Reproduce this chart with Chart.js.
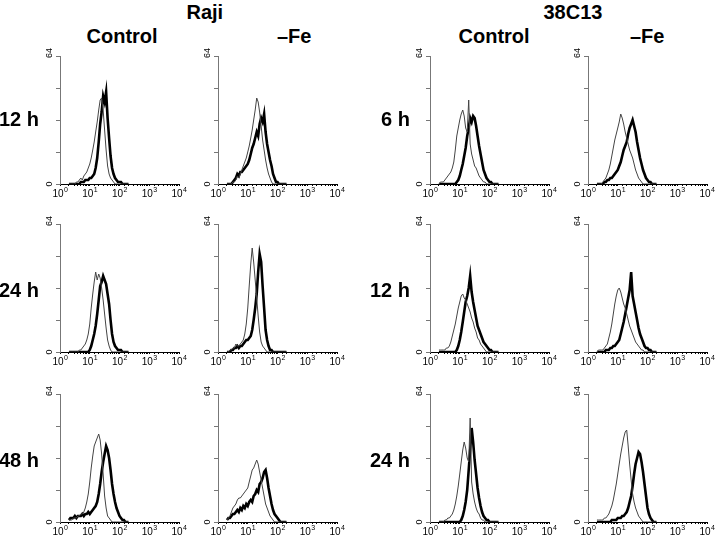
<!DOCTYPE html>
<html>
<head>
<meta charset="utf-8">
<script src="https://cdn.jsdelivr.net/npm/chart.js@4.4.1/dist/chart.umd.min.js"></script>
<style>
  body { margin: 0; background: #fff; width: 720px; height: 536px; position: relative; overflow: hidden;
         font-family: "Liberation Sans", Arial, sans-serif; }
  .lbl { position: absolute; font-weight: bold; font-size: 20px; line-height: 20px; white-space: nowrap; color: #000; }
  .panel { position: absolute; }
</style>
</head>
<body>
<script>
// fluorescence channels (log spaced, 10^0.30 .. 10^2.30)
var channels = [2.00, 2.24, 2.51, 2.82, 3.16, 3.55, 3.98, 4.47, 5.01, 5.62,
                6.31, 7.08, 7.94, 8.91, 10.0, 11.2, 12.6, 14.1, 15.8, 17.8,
                20.0, 22.4, 25.1, 28.2, 31.6, 35.5, 39.8, 44.7, 50.1, 56.2,
                63.1, 70.8, 79.4, 89.1, 100, 112, 126, 141, 158, 178, 200];

var cellLines = ['Raji', '38C13'];
var conditions = ['Control', '\u2013Fe'];
var rajiTimes = ['12 h', '24 h', '48 h'];
var c38Times = ['6 h', '12 h', '24 h'];
var xTickExponents = ['0', '1', '2', '3', '4'];
var yTickLabels = [0, 64];

// Raji
var rajiControl12Thin  = [0,0,0,0,0,1,1,2,3,2, 4,5,6,8,10,13,17,21,26,31, 37,42,43,37,27,17,9,5,3,2, 1,0,0,0,0,0,0,0,0,0, 0];
var rajiControl12Thick = [0,0,0,0,0,0,0,0,1,1, 1,2,2,2,3,3,4,5,8,13, 21,30,36,44,41,46,33,23,14,8, 5,3,2,1,1,1,0,0,0,0, 0];
var rajiFe12Thin       = [0,0,0,0,1,1,2,4,3,5, 7,9,11,13,16,19,23,27,32,37, 43,41,36,29,22,17,12,8,5,3, 1,0,0,0,0,0,0,0,0,0, 0];
var rajiFe12Thick      = [0,0,0,0,1,2,3,5,4,6, 6,7,8,9,10,12,15,18,20,23, 26,24,30,33,31,35,26,20,16,12, 9,5,3,1,1,0,0,0,0,0, 0];
var rajiControl24Thin  = [0,0,0,0,0,0,0,1,1,2, 3,4,6,9,14,22,29,35,40,36, 39,37,32,26,19,12,6,3,1,0, 0,0,0,0,0,0,0,0,0,0, 0];
var rajiControl24Thick = [0,0,0,0,0,0,0,0,0,0, 0,0,0,0,1,3,6,9,13,19, 26,33,35,38,36,34,29,24,16,9, 5,3,2,1,1,1,0,0,0,0, 0];
var rajiFe24Thin       = [0,0,1,1,2,2,4,3,3,4, 5,6,9,14,22,33,44,52,45,36, 27,18,10,5,3,2,1,0,0,0, 0,0,0,0,0,0,0,0,0,0, 0];
var rajiFe24Thick      = [0,0,0,1,1,2,2,3,2,3, 3,4,5,6,6,7,8,11,16,22, 29,40,49,45,33,22,11,6,3,1, 1,0,0,0,0,0,0,0,0,0, 0];
var rajiControl48Thin  = [1,1,1,2,2,2,3,3,4,4, 5,7,10,14,20,27,33,38,40,42, 44,41,34,24,13,7,3,2,1,0, 0,0,0,0,0,0,0,0,0,0, 0];
var rajiControl48Thick = [1,2,2,2,3,2,3,3,3,4, 3,4,4,5,4,5,6,7,8,10, 14,19,25,30,34,38,36,32,26,19, 14,10,7,5,3,2,1,1,0,0, 0];
var rajiFe48Thin       = [1,2,3,5,7,8,9,11,12,12, 13,14,15,16,17,20,23,26,27,29, 31,29,25,21,17,13,9,7,5,3, 2,1,0,0,0,0,0,0,0,0, 0];
var rajiFe48Thick      = [1,2,2,3,4,4,5,6,5,7, 6,8,7,9,8,10,11,10,13,14, 16,15,19,20,22,25,26,22,17,13, 9,6,4,3,2,1,0,0,0,0, 0];

// 38C13
var c38Control6Thin    = [0,1,1,1,2,3,4,5,6,8, 11,17,24,28,32,35,37,34,28,26, 42,20,15,12,9,8,6,4,3,2, 1,1,0,0,0,0,0,0,0,0, 0];
var c38Control6Thick   = [0,0,0,0,0,0,0,0,0,0, 0,0,1,2,4,7,10,14,18,24, 28,33,31,34,33,29,24,19,15,11, 7,5,3,2,1,1,0,0,0,0, 0];
var c38Fe6Thin         = [0,0,0,0,1,2,3,5,7,10, 14,18,22,25,28,31,35,33,30,26, 23,20,17,15,13,10,7,5,3,2, 1,0,0,0,0,0,0,0,0,0, 0];
var c38Fe6Thick        = [0,0,0,0,0,1,1,2,2,3, 3,4,5,6,7,9,11,14,17,19, 21,25,28,30,32,29,26,21,17,13, 10,7,5,3,2,1,1,0,0,0, 0];
var c38Control12Thin   = [1,1,1,1,1,2,2,3,5,8, 11,14,18,22,25,28,29,27,26,24, 22,20,17,15,12,10,7,6,4,3, 2,1,0,0,0,0,0,0,0,0, 0];
var c38Control12Thick  = [0,0,0,0,0,0,0,0,0,0, 0,0,1,3,6,10,15,20,25,28, 32,38,30,25,21,17,13,11,9,7, 5,4,3,2,1,1,0,0,0,0, 0];
var c38Fe12Thin        = [0,1,1,1,1,2,3,4,7,10, 14,19,24,28,31,32,30,27,24,22, 19,16,13,11,9,7,5,4,3,2, 1,1,0,0,0,0,0,0,0,0, 0];
var c38Fe12Thick       = [0,0,0,0,0,0,1,1,1,2, 2,3,3,4,5,6,9,12,15,19, 23,27,31,40,28,24,20,16,12,9, 7,5,3,2,2,1,1,0,0,0, 0];
var c38Control24Thin   = [0,0,0,0,1,1,2,2,3,4, 6,9,13,18,24,30,36,40,37,32, 30,52,20,14,10,7,5,4,2,1, 1,0,0,0,0,0,0,0,0,0, 0];
var c38Control24Thick  = [0,0,0,0,0,0,0,0,0,0, 0,0,0,0,0,1,3,6,10,16, 26,36,47,40,31,24,17,12,8,5, 3,2,1,1,0,0,0,0,0,0, 0];
var c38Fe24Thin        = [1,1,1,1,1,2,2,3,4,6, 8,11,15,19,24,29,34,38,42,45, 46,38,29,21,14,10,7,5,3,2, 1,0,0,0,0,0,0,0,0,0, 0];
var c38Fe24Thick       = [0,0,0,0,0,0,0,0,0,0, 1,1,1,1,2,2,2,3,3,4, 5,7,10,13,18,24,29,32,35,34, 30,25,19,13,7,4,2,1,0,0, 0];

var FONT = '"Liberation Sans", Arial, sans-serif';
Chart.defaults.font.family = FONT;

function toPoints(values) {
    return values.map(function (v, i) { return { x: channels[i], y: v }; });
}

// rotated 0 / 64 on the y axis and 10^n labels on the x axis
var axisLabels = {
    id: 'axisLabels',
    afterDraw: function (chart) {
        var ctx = chart.ctx, y = chart.scales.y, x = chart.scales.x;
        ctx.save();
        ctx.fillStyle = '#000';
        ctx.font = '9px ' + FONT;
        ctx.textAlign = 'center';
        ctx.textBaseline = 'middle';
        yTickLabels.forEach(function (v) {
            ctx.save();
            ctx.translate(y.right - 10, y.getPixelForValue(v) - (v > 0 ? 3 : 0));
            ctx.rotate(-Math.PI / 2);
            ctx.fillText(String(v), 0, 0);
            ctx.restore();
        });
        ctx.textAlign = 'left';
        ctx.textBaseline = 'top';
        xTickExponents.forEach(function (e, i) {
            var px = x.getPixelForValue(Math.pow(10, i));
            ctx.font = '10px ' + FONT;
            var wBase = ctx.measureText('10').width;
            ctx.font = '7px ' + FONT;
            var wExp = ctx.measureText(e).width;
            var start = px - (wBase + wExp) / 2;
            ctx.font = '10px ' + FONT;
            ctx.fillText('10', start, x.top + 5);
            ctx.font = '7px ' + FONT;
            ctx.fillText(e, start + wBase + 0.5, x.top + 2.5);
        });
        ctx.restore();
    }
};

function addLabel(text, x, y, align) {
    var d = document.createElement('div');
    d.className = 'lbl';
    d.textContent = text;
    document.body.appendChild(d);
    var w = d.offsetWidth;
    var left = align === 'right' ? x - w : x - w / 2;
    d.style.left = left + 'px';
    d.style.top = (y - 10) + 'px';
}

function makePanel(left, top, thin, thick) {
    var padL = 22, padT = 8, padR = 14, padB = 16, w = 119, h = 128;
    var cv = document.createElement('canvas');
    cv.className = 'panel';
    cv.width = w + padL + padR;
    cv.height = h + padT + padB;
    cv.style.left = (left - padL) + 'px';
    cv.style.top = (top - padT) + 'px';
    document.body.appendChild(cv);

    new Chart(cv.getContext('2d'), {
        type: 'line',
        data: {
            datasets: [
                { data: toPoints(thin), borderColor: '#444', borderWidth: 1, pointRadius: 0, tension: 0 },
                { data: toPoints(thick), borderColor: '#000', borderWidth: 2.6, pointRadius: 0, tension: 0 }
            ]
        },
        options: {
            responsive: false,
            animation: false,
            events: [],
            layout: { autoPadding: false, padding: { left: 0, top: padT, right: padR, bottom: 0 } },
            plugins: { legend: { display: false }, tooltip: { enabled: false } },
            scales: {
                x: {
                    type: 'logarithmic',
                    min: 1,
                    max: 10000,
                    afterFit: function (s) { s.height = padB; },
                    ticks: { autoSkip: false, maxRotation: 0, minRotation: 0, display: false },
                    grid: { drawOnChartArea: false, drawTicks: true, tickLength: 2, color: '#000', lineWidth: 1 },
                    border: { display: true, color: '#000', width: 1 }
                },
                y: {
                    min: 0,
                    max: 64,
                    afterFit: function (s) { s.width = padL; },
                    ticks: { stepSize: 16, display: false },
                    grid: { drawOnChartArea: false, drawTicks: true, tickLength: 4, color: '#777', lineWidth: 1 },
                    border: { display: true, color: '#777', width: 1 }
                }
            }
        },
        plugins: [axisLabels]
    });
}

var colLeft = [60, 218, 430, 588];
var rowTop = [56, 224, 394];

makePanel(colLeft[0], rowTop[0], rajiControl12Thin, rajiControl12Thick);
makePanel(colLeft[1], rowTop[0], rajiFe12Thin, rajiFe12Thick);
makePanel(colLeft[0], rowTop[1], rajiControl24Thin, rajiControl24Thick);
makePanel(colLeft[1], rowTop[1], rajiFe24Thin, rajiFe24Thick);
makePanel(colLeft[0], rowTop[2], rajiControl48Thin, rajiControl48Thick);
makePanel(colLeft[1], rowTop[2], rajiFe48Thin, rajiFe48Thick);

makePanel(colLeft[2], rowTop[0], c38Control6Thin, c38Control6Thick);
makePanel(colLeft[3], rowTop[0], c38Fe6Thin, c38Fe6Thick);
makePanel(colLeft[2], rowTop[1], c38Control12Thin, c38Control12Thick);
makePanel(colLeft[3], rowTop[1], c38Fe12Thin, c38Fe12Thick);
makePanel(colLeft[2], rowTop[2], c38Control24Thin, c38Control24Thick);
makePanel(colLeft[3], rowTop[2], c38Fe24Thin, c38Fe24Thick);

// headers
addLabel(cellLines[0], 205, 12);
addLabel(cellLines[1], 573, 12);
addLabel(conditions[0], 122, 36);
addLabel(conditions[1], 294, 36);
addLabel(conditions[0], 494, 36);
addLabel(conditions[1], 647, 36);

// row labels
var rowMid = [119, 290, 460];
rajiTimes.forEach(function (t, i) { addLabel(t, 39, rowMid[i], 'right'); });
c38Times.forEach(function (t, i) { addLabel(t, 410, rowMid[i], 'right'); });
</script>
</body>
</html>
